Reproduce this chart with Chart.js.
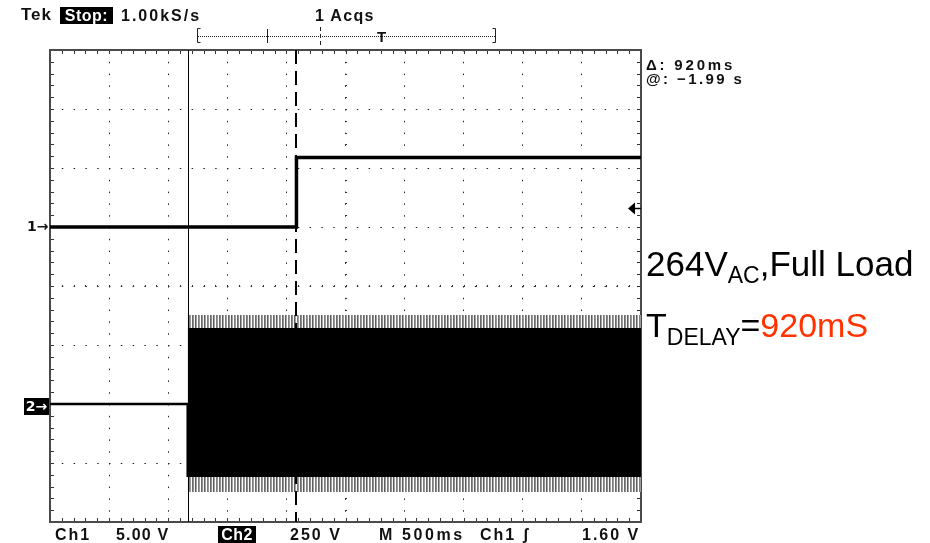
<!DOCTYPE html>
<html>
<head>
<meta charset="utf-8">
<script src="https://cdn.jsdelivr.net/npm/chart.js@4.4.0/dist/chart.umd.min.js"></script>
<style>
  html, body { margin: 0; padding: 0; background: #fff; }
  #wrap { position: relative; width: 930px; height: 543px; overflow: hidden; }
  #scope { position: absolute; left: 0; top: 0; }
  .t { position: absolute; font-family: "Liberation Sans", Arial, sans-serif; font-size: 16px; font-weight: bold;
       color: #111; white-space: nowrap; line-height: 17px; letter-spacing: 2px; }
  .inv { background: #000; color: #fff; text-align: center; }
  .mk { font-family: "DejaVu Sans", sans-serif; font-size: 14px; letter-spacing: 0; }
  .big { position: absolute; font-family: "Liberation Sans", Arial, sans-serif; color: #000; white-space: nowrap; line-height: 1; }
  .big sub { font-size: 23px; vertical-align: baseline; position: relative; }
</style>
</head>
<body>
<div id="wrap">
  <canvas id="scope" width="930" height="543"></canvas>

  <div class="t" style="left:21px;top:6px;font-size:17px;letter-spacing:1px">Tek</div>
  <div class="t inv" style="left:60px;top:7px;width:53px;letter-spacing:0.5px">Stop:</div>
  <div class="t" style="left:121px;top:7px">1.00kS/s</div>
  <div class="t" style="left:315px;top:7px;letter-spacing:1.3px">1 Acqs</div>
  <div class="t" style="left:377px;top:28px;font-size:15px">T</div>

  <div class="t" style="left:646px;top:56px;font-size:15px;letter-spacing:2.8px">&Delta;: 920ms</div>
  <div class="t" style="left:646px;top:70px;font-size:15px;letter-spacing:2.4px">@: &minus;1.99 s</div>

  <div class="t mk" style="left:27px;top:218px">1&rarr;</div>
  <div class="t inv mk" style="left:24px;top:398px;width:25px;height:17px">2&rarr;</div>

  <div class="t" style="left:55px;top:526px">Ch1</div>
  <div class="t" style="left:116px;top:526px;letter-spacing:1.2px">5.00 V</div>
  <div class="t inv" style="left:218px;top:526px;width:38px;letter-spacing:0.5px">Ch2</div>
  <div class="t" style="left:290px;top:526px">250 V</div>
  <div class="t" style="left:379px;top:526px;letter-spacing:2.6px">M 500ms</div>
  <div class="t" style="left:480px;top:526px">Ch1</div>
  <div class="t" style="left:523px;top:526px">&#643;</div>
  <div class="t" style="left:582px;top:526px">1.60 V</div>

  <div class="big" style="left:646px;top:246px;font-size:35px">264V<sub style="top:7px">AC</sub>,Full Load</div>
  <div class="big" style="left:646px;top:308px;font-size:34px">T<sub style="top:8px">DELAY</sub>=<span style="color:#ff3300">920mS</span></div>
</div>

<script>
// screen: 10 div x 500 ms, Ch1 5 V/div (ground +1 div), Ch2 250 V/div (ground -2 div)
let timeRange = [0, 5000]
let ch1Range = [-25, 15]
let ch2Range = [-500, 1500]

// Ch1 (enable / output) trace, ms and V
let ch1Time = [0, 2085, 2085, 5000]
let ch1Volt = [0, 0, 5.9, 5.9]

// Ch2 (AC input) before switch-on
let ch2Time = [0, 1165, 1165]
let ch2Volt = [0, 0, -309]

// Ch2 burst: peaks and dense envelope
let burstTime = [1165, 5000]
let burstPeakHi = [377, 377]
let burstEnvHi = [322, 322]
let burstEnvLo = [-309, -309]
let burstPeakLo = [-373, -373]

let cursorStart = 1165
let cursorDelta = 920
let trigLevel = 1.6

function pts(xs, ys) {
    return xs.map((x, i) => ({x: x, y: ys[i]}))
}

function stripes() {
    let c = document.createElement('canvas')
    c.width = 9; c.height = 4
    let g = c.getContext('2d')
    let cols = ['#7c7c7c', '#9a9a9a', '#ffffff', '#6a6a6a', '#8e8e8e', '#f4f4f4', '#5c5c5c', '#a4a4a4', '#ffffff']
    cols.forEach((col, i) => { g.fillStyle = col; g.fillRect(i, 0, 1, 4) })
    return g.createPattern(c, 'repeat')
}

const graticule = {
    id: 'graticule',
    beforeDatasetsDraw(chart) {
        const {ctx, chartArea: a, scales} = chart
        const xs = scales.x, ys = scales.y
        const cx = Math.round(xs.getPixelForValue(2500)), cy = Math.round(ys.getPixelForValue(-5))
        ctx.save()
        ctx.strokeStyle = '#333'
        ctx.lineWidth = 1
        ctx.beginPath()
        for (let t = 100; t < 5000; t += 100) {
            let x = Math.round(xs.getPixelForValue(t)) + 0.5
            ctx.moveTo(x, a.top); ctx.lineTo(x, a.top + 4)
            ctx.moveTo(x, a.bottom); ctx.lineTo(x, a.bottom - 4)
            ctx.moveTo(x, cy - 1); ctx.lineTo(x, cy + 1)
        }
        for (let v = -24; v < 15; v += 1) {
            let y = Math.round(ys.getPixelForValue(v)) + 0.5
            ctx.moveTo(a.left, y); ctx.lineTo(a.left + 4, y)
            ctx.moveTo(a.right, y); ctx.lineTo(a.right - 4, y)
            ctx.moveTo(cx - 1, y); ctx.lineTo(cx + 1, y)
        }
        ctx.stroke()
        ctx.strokeStyle = '#4a4a4a'
        ctx.lineWidth = 2
        ctx.strokeRect(a.left, a.top, a.right - a.left, a.bottom - a.top)

        // record bracket at the top
        ctx.strokeStyle = '#222'
        ctx.lineWidth = 1
        ctx.beginPath()
        ctx.moveTo(200.5, 28.5); ctx.lineTo(197.5, 28.5); ctx.lineTo(197.5, 42.5); ctx.lineTo(200.5, 42.5)
        ctx.moveTo(492.5, 28.5); ctx.lineTo(495.5, 28.5); ctx.lineTo(495.5, 42.5); ctx.lineTo(492.5, 42.5)
        ctx.moveTo(267.5, 29); ctx.lineTo(267.5, 43)
        ctx.stroke()
        ctx.setLineDash([4, 3])
        ctx.beginPath()
        ctx.moveTo(320.5, 27); ctx.lineTo(320.5, 45)
        ctx.stroke()
        ctx.setLineDash([1, 1])
        ctx.beginPath()
        ctx.moveTo(198, 36.5); ctx.lineTo(495, 36.5)
        ctx.stroke()
        ctx.restore()
    },
    afterDatasetsDraw(chart) {
        const {ctx, chartArea: a, scales} = chart
        let x1 = Math.round(scales.x.getPixelForValue(cursorStart)) + 0.5
        let x2 = Math.round(scales.x.getPixelForValue(cursorStart + cursorDelta))
        ctx.save()
        ctx.strokeStyle = '#000'
        ctx.lineWidth = 1
        ctx.beginPath()
        ctx.moveTo(x1, a.top); ctx.lineTo(x1, a.bottom)
        ctx.stroke()
        ctx.lineWidth = 2
        ctx.setLineDash([14, 7])
        ctx.beginPath()
        ctx.moveTo(x2, a.top); ctx.lineTo(x2, a.bottom)
        ctx.stroke()
        ctx.setLineDash([])
        // trigger level arrow
        let ty = Math.round(scales.y.getPixelForValue(trigLevel)) + 0.5
        ctx.fillStyle = '#000'
        ctx.beginPath()
        ctx.moveTo(a.right - 13, ty); ctx.lineTo(a.right - 6, ty - 6); ctx.lineTo(a.right - 6, ty + 6)
        ctx.closePath(); ctx.fill()
        ctx.lineWidth = 1.5
        ctx.beginPath()
        ctx.moveTo(a.right - 7, ty); ctx.lineTo(a.right, ty)
        ctx.stroke()
        ctx.restore()
    }
}

let stripe = stripes()
let dotted = {display: false, dash: [1.5, 10.3]}

new Chart(document.getElementById('scope').getContext('2d'), {
    type: 'line',
    data: {
        datasets: [
            {data: pts(burstTime, burstPeakHi), yAxisID: 'y2', borderWidth: 0, fill: '+1', backgroundColor: stripe},
            {data: pts(burstTime, burstEnvHi), yAxisID: 'y2', borderWidth: 0, fill: '+1', backgroundColor: '#000'},
            {data: pts(burstTime, burstEnvLo), yAxisID: 'y2', borderWidth: 0, fill: '+1', backgroundColor: stripe},
            {data: pts(burstTime, burstPeakLo), yAxisID: 'y2', borderWidth: 0, fill: false},
            {data: pts(ch2Time, ch2Volt), yAxisID: 'y2', borderColor: '#000', borderWidth: 2.5, fill: false},
            {data: pts(ch1Time, ch1Volt), yAxisID: 'y', borderColor: '#000', borderWidth: 3.5, fill: false},
        ]
    },
    options: {
        responsive: false,
        animation: false,
        devicePixelRatio: 1,
        layout: {padding: {left: 50, top: 50, right: 289, bottom: 21}},
        elements: {point: {radius: 0}, line: {tension: 0, borderJoinStyle: 'miter', borderCapStyle: 'butt'}},
        plugins: {legend: {display: false}, tooltip: {enabled: false}},
        scales: {
            x: {
                type: 'linear', min: timeRange[0], max: timeRange[1],
                ticks: {display: false, stepSize: 500},
                grid: {color: '#222', lineWidth: 1, drawTicks: false},
                border: dotted
            },
            y: {
                min: ch1Range[0], max: ch1Range[1],
                ticks: {display: false, stepSize: 5},
                grid: {color: '#222', lineWidth: 1, drawTicks: false},
                border: dotted
            },
            y2: {min: ch2Range[0], max: ch2Range[1], display: false}
        }
    },
    plugins: [graticule]
});
</script>
</body>
</html>
